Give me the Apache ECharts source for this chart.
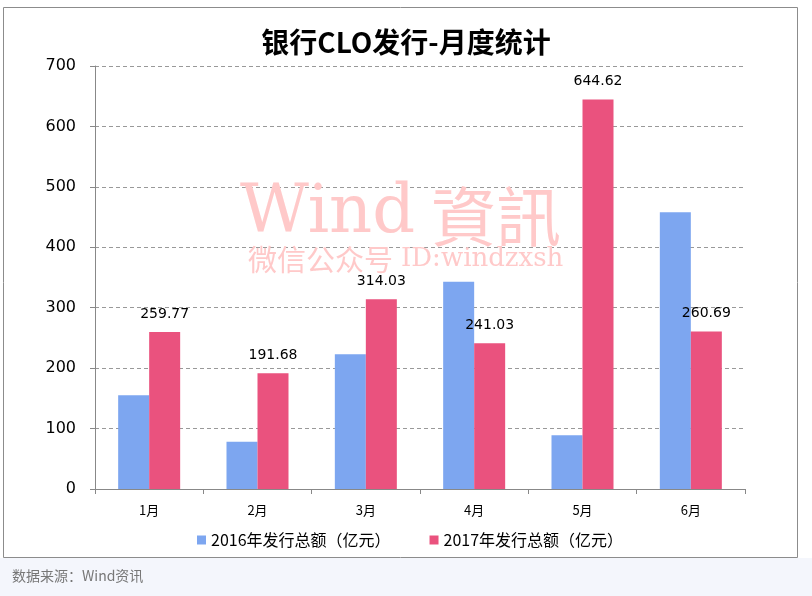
<!DOCTYPE html>
<html>
<head>
<meta charset="utf-8">
<script src="https://cdn.jsdelivr.net/npm/echarts@6/dist/echarts.min.js"></script>
<style>
html,body{margin:0;padding:0;background:#fff;}
#chart{width:812px;height:596px;}
</style>
</head>
<body>
<div id="chart"></div>
<script>
const categories = ['1月', '2月', '3月', '4月', '5月', '6月'];
const values2016 = [155, 78, 223, 343, 89, 458];
const values2017 = [259.77, 191.68, 314.03, 241.03, 644.62, 260.69];
const yTicks = [0, 700, 100];
const seriesNames = ['2016年发行总额（亿元）', '2017年发行总额（亿元）'];

const CJK = '"Noto Sans CJK SC", "Microsoft YaHei", sans-serif';
const chart = echarts.init(document.getElementById('chart'), null, {renderer: 'canvas'});
chart.setOption({
  animation: false,
  backgroundColor: '#fff',
  title: {
    text: '银行CLO发行-月度统计',
    left: 'center',
    top: 23,
    textStyle: {fontFamily: CJK, fontSize: 28, fontWeight: 'bold', color: '#000'}
  },
  grid: {left: 95, right: 67, top: 66, bottom: 107, containLabel: false},
  legend: {
    left: 192,
    top: 527,
    itemWidth: 9,
    itemHeight: 9,
    itemGap: 39,
    icon: 'rect',
    textStyle: {fontFamily: CJK, fontSize: 16, color: '#000'},
    data: seriesNames
  },
  xAxis: {
    type: 'category',
    data: categories,
    axisLine: {lineStyle: {color: '#888'}},
    axisTick: {show: true, length: 5, lineStyle: {color: '#888'}},
    axisLabel: {margin: 15, fontFamily: CJK, fontSize: 13, color: '#000'}
  },
  yAxis: {
    type: 'value',
    min: yTicks[0],
    max: yTicks[1],
    interval: yTicks[2],
    axisLine: {show: true, lineStyle: {color: '#888'}},
    axisTick: {show: true, length: 5, lineStyle: {color: '#888'}},
    axisLabel: {margin: 19, fontFamily: '"DejaVu Sans", Verdana, sans-serif', fontSize: 16, color: '#000'},
    splitLine: {show: true, lineStyle: {color: '#999', type: [4, 3], width: 1}}
  },
  series: [
    {
      name: seriesNames[0],
      type: 'bar',
      data: values2016,
      barWidth: 31,
      barGap: '0%',
      itemStyle: {color: '#7DA6F0'},
      z: 2
    },
    {
      name: seriesNames[1],
      type: 'bar',
      data: values2017,
      barWidth: 31,
      barGap: '0%',
      itemStyle: {color: '#EA527E'},
      z: 2,
      label: {
        show: true,
        position: 'top',
        distance: 11,
        fontFamily: '"DejaVu Sans", Tahoma, sans-serif',
        fontSize: 14,
        color: '#000',
        formatter: p => p.value.toFixed(2)
      }
    }
  ],
  graphic: [
    {type: 'rect', silent: true, z: 0, shape: {x: 0, y: 558, width: 812, height: 38}, style: {fill: '#f4f6fc'}},
    {type: 'rect', silent: true, z: 0, shape: {x: 3.5, y: 7.5, width: 794, height: 550}, style: {fill: 'none', stroke: '#8c8c8c', lineWidth: 1}},
    {type: 'text', silent: true, z: 0, left: 12, top: 569, style: {text: '数据来源：Wind资讯', font: '14px ' + CJK, fill: '#777'}},
    {type: 'text', silent: true, z: 1, left: 240, top: 181, style: {text: 'Wind', font: '67px "DejaVu Serif", serif', fill: '#ffc9c9'}},
    {type: 'text', silent: true, z: 1, left: 431, top: 184, style: {text: '資訊', font: '65px "Noto Sans CJK TC", sans-serif', fill: '#ffc9c9'}},
    {type: 'text', silent: true, z: 1, left: 248, top: 245, style: {text: '微信公众号', font: '29px ' + CJK, fill: '#ffc9c9'}},
    {type: 'text', silent: true, z: 1, left: 401, top: 246, style: {text: 'ID:windzxsh', font: '26px "DejaVu Serif", serif', fill: '#ffc9c9'}}
  ]
});
</script>
</body>
</html>
